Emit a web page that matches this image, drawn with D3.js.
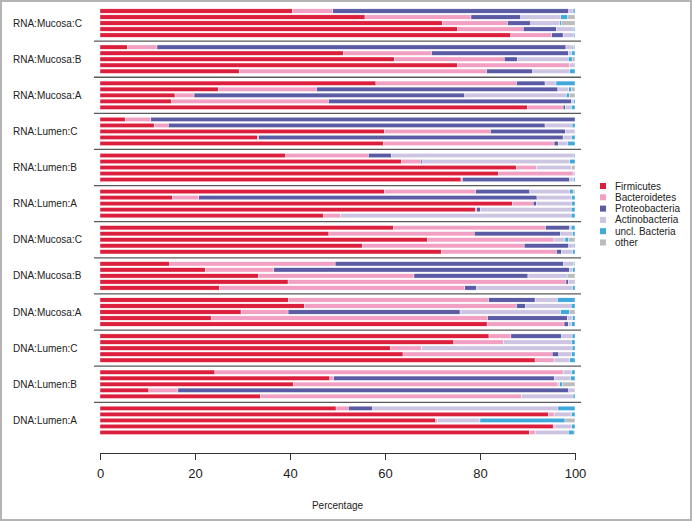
<!DOCTYPE html>
<html>
<head>
<meta charset="utf-8">
<script src="https://cdn.jsdelivr.net/npm/d3@7"></script>
<style>
  body { margin: 0; background: #fff; }
  svg text { font-family: "Liberation Sans", Arial, Helvetica, sans-serif; fill: #222; }
</style>
</head>
<body>
<svg id="chart-area"></svg>
<script>
// Groups, top to bottom, five samples each
const groups = ["RNA:Mucosa:C", "RNA:Mucosa:B", "RNA:Mucosa:A", "RNA:Lumen:C", "RNA:Lumen:B", "RNA:Lumen:A",
  "DNA:Mucosa:C", "DNA:Mucosa:B", "DNA:Mucosa:A", "DNA:Lumen:C", "DNA:Lumen:B", "DNA:Lumen:A"];
const phyla = ["Firmicutes", "Bacteroidetes", "Proteobacteria", "Actinobacteria", "uncl. Bacteria", "other"];
const colors = ["#dc1f3c", "#f1a0c3", "#5b5ba5", "#cdc4e2", "#3fa9dc", "#bcbcbc"];
const ticks = [0, 20, 40, 60, 80, 100];

// percentages, one row per group (5 bars)
const firmicutes = [
  40.5, 55.8, 72.1, 75.3, 86.5,
  5.8, 51.2, 62.0, 75.2, 29.3,
  58.1, 24.9, 15.8, 15.1, 90.0,
  5.3, 11.4, 59.9, 33.2, 59.7,
  39.1, 63.5, 87.7, 83.9, 76.0,
  59.9, 15.3, 86.8, 79.0, 47.1,
  61.8, 48.2, 68.9, 55.3, 71.9,
  14.7, 22.2, 33.4, 39.6, 25.1,
  39.7, 43.0, 29.7, 23.4, 81.5,
  81.9, 74.5, 61.2, 63.8, 91.6,
  24.2, 48.4, 40.7, 10.3, 33.8,
  49.7, 94.4, 70.7, 95.4, 90.4];
const bacteroidetes = [
  8.5, 22.3, 13.7, 13.8, 8.6,
  6.2, 18.6, 23.1, 23.7, 52.1,
  29.6, 20.7, 4.0, 33.0, 7.5,
  5.4, 3.0, 22.3, 0.2, 35.9,
  17.4, 4.0, 4.2, 15.7, 0.3,
  19.2, 5.5, 4.4, 0.3, 3.6,
  32.0, 30.6, 26.7, 34.0, 24.2,
  34.8, 14.4, 32.7, 58.5, 51.7,
  42.1, 44.7, 9.9, 58.2, 16.2,
  4.6, 10.4, 6.5, 31.4, 4.0,
  73.3, 0.8, 55.7, 6.1, 55.0,
  2.6, 1.2, 0.3, 0.4, 1.2];
const proteobacteria = [
  49.7, 10.5, 4.9, 7.0, 2.4,
  86.1, 28.8, 2.8, 0, 9.7,
  6.0, 50.8, 57.0, 51.2, 0.5,
  89.3, 79.3, 15.8, 64.1, 0.9,
  4.9, 0.3, 0, 0, 22.6,
  11.4, 71.2, 0.7, 0.8, 0,
  5.1, 18.2, 0, 9.4, 1.1,
  48.1, 62.3, 24.0, 0.5, 2.5,
  9.8, 1.9, 36.2, 16.8, 0.9,
  10.7, 0, 0, 1.4, 0,
  0, 46.5, 0, 82.3, 0,
  5.1, 0, 0, 0, 0];
const actinobacteria = [
  0.9, 8.4, 6.1, 3.7, 2.3,
  1.3, 0.7, 10.7, 1.1, 7.8,
  2.3, 2.3, 21.4, 0.4, 1.3,
  0, 5.7, 2.0, 1.8, 2.0,
  38.4, 31.1, 7.4, 0.4, 0.8,
  8.4, 7.3, 7.4, 19.1, 48.5,
  0.3, 2.5, 2.3, 1.1, 2.3,
  1.8, 0.6, 8.1, 1.4, 20.2,
  4.7, 9.6, 21.2, 1.1, 0.7,
  2.2, 14.4, 31.7, 2.7, 3.3,
  1.8, 3.4, 0.4, 1.3, 10.8,
  39.0, 3.7, 9.0, 3.5, 7.0];
const unclBacteria = [
  0.4, 1.5, 0.4, 0.2, 0.2,
  0.3, 0.7, 0.8, 0, 1.1,
  4.0, 0.6, 0.7, 0.3, 0.7,
  0, 0.6, 0, 0.7, 1.5,
  0.2, 1.1, 0, 0, 0.3,
  0.7, 0.7, 0.7, 0.8, 0.8,
  0.8, 0.5, 0.8, 0.2, 0.5,
  0.3, 0.5, 0.3, 0, 0.5,
  3.7, 0.8, 1.9, 0.5, 0.7,
  0.6, 0.7, 0.6, 0.7, 1.1,
  0.7, 0.9, 0.5, 0, 0.4,
  3.6, 0.7, 17.9, 0.7, 1.2];
const other = [
  0, 1.5, 2.8, 0, 0,
  0.3, 0, 0.6, 0, 0,
  0, 0.7, 1.1, 0, 0,
  0, 0, 0, 0, 0,
  0, 0, 0.7, 0, 0,
  0.4, 0, 0, 0, 0,
  0, 0, 1.3, 0, 0,
  0.3, 0, 1.5, 0, 0,
  0, 0, 1.1, 0, 0,
  0, 0, 0, 0, 0,
  0, 0, 2.7, 0, 0,
  0, 0, 2.1, 0, 0.2];

const series = [firmicutes, bacteroidetes, proteobacteria, actinobacteria, unclBacteria, other];
const perGroup = 5;

// build table: one row per bar, slot index leaves an empty slot between groups
const rows = firmicutes.map((v, i) => {
  const g = Math.floor(i / perGroup), j = i % perGroup;
  const row = { slot: g * (perGroup + 1) + j, group: g };
  phyla.forEach((p, k) => { row[p] = series[k][i]; });
  return row;
});

const W = 692, H = 521;
const svg = d3.select("#chart-area").attr("width", W).attr("height", H);

// frame
svg.append("rect")
  .attr("x", 1).attr("y", 1).attr("width", W - 2).attr("height", H - 2)
  .attr("fill", "#fff").attr("stroke", "#b4b4b4").attr("stroke-width", 2);

const nSlots = groups.length * (perGroup + 1) - 1;
const x = d3.scaleLinear().domain([0, 100]).range([100, 575]);
const y = d3.scaleBand()
  .domain(d3.range(nSlots))
  .range([8, 8 + nSlots * 6.02])
  .paddingInner(0.28)
  .paddingOuter(0.14);

const stacked = d3.stack().keys(phyla)(rows);

svg.append("g").selectAll("g")
  .data(stacked)
  .join("g")
    .attr("fill", (d, i) => colors[i])
  .selectAll("rect")
  .data(d => d.filter(s => s[1] - s[0] > 0))
  .join("rect")
    .attr("x", d => x(d[0]))
    .attr("width", d => x(d[1]) - x(d[0]))
    .attr("y", d => y(d.data.slot))
    .attr("height", y.bandwidth())
    .attr("stroke", "#fff")
    .attr("stroke-width", 0.4);

// separators between groups
const step = y.step();
svg.append("g").selectAll("line")
  .data(d3.range(groups.length - 1))
  .join("line")
    .attr("x1", 94).attr("x2", 581)
    .attr("y1", g => y(g * (perGroup + 1) + perGroup) + y.bandwidth() / 2)
    .attr("y2", g => y(g * (perGroup + 1) + perGroup) + y.bandwidth() / 2)
    .attr("stroke", "#5a5a5a")
    .attr("stroke-width", 1.3);

// group labels
svg.append("g").selectAll("text")
  .data(groups)
  .join("text")
    .attr("x", 13)
    .attr("y", (d, g) => y(g * (perGroup + 1) + 2) + y.bandwidth() / 2)
    .attr("dy", "0.35em")
    .style("font-size", "10px")
    .text(d => d);

// x axis
const axis = svg.append("g")
  .attr("transform", "translate(0,453)")
  .call(d3.axisBottom(x).tickValues(ticks).tickSize(7).tickSizeOuter(0).tickPadding(9));
axis.select(".domain").attr("stroke", "#333");
axis.selectAll(".tick line").attr("stroke", "#333");
axis.selectAll(".tick text")
  .style("font-size", "13px")
  .style("font-family", "'Liberation Sans', Arial, sans-serif")
  .attr("fill", "#222");

svg.append("text")
  .attr("x", x(50))
  .attr("y", 508.5)
  .attr("text-anchor", "middle")
  .style("font-size", "10px")
  .text("Percentage");

// legend
const legend = svg.append("g").selectAll("g")
  .data(phyla)
  .join("g")
    .attr("transform", (d, i) => `translate(600,${186 + i * 11.3})`);
legend.append("rect")
  .attr("x", 0).attr("y", -3).attr("width", 6).attr("height", 6)
  .attr("fill", (d, i) => colors[i]);
legend.append("text")
  .attr("x", 15).attr("dy", "0.35em")
  .style("font-size", "10px")
  .text(d => d);
</script>
</body>
</html>
